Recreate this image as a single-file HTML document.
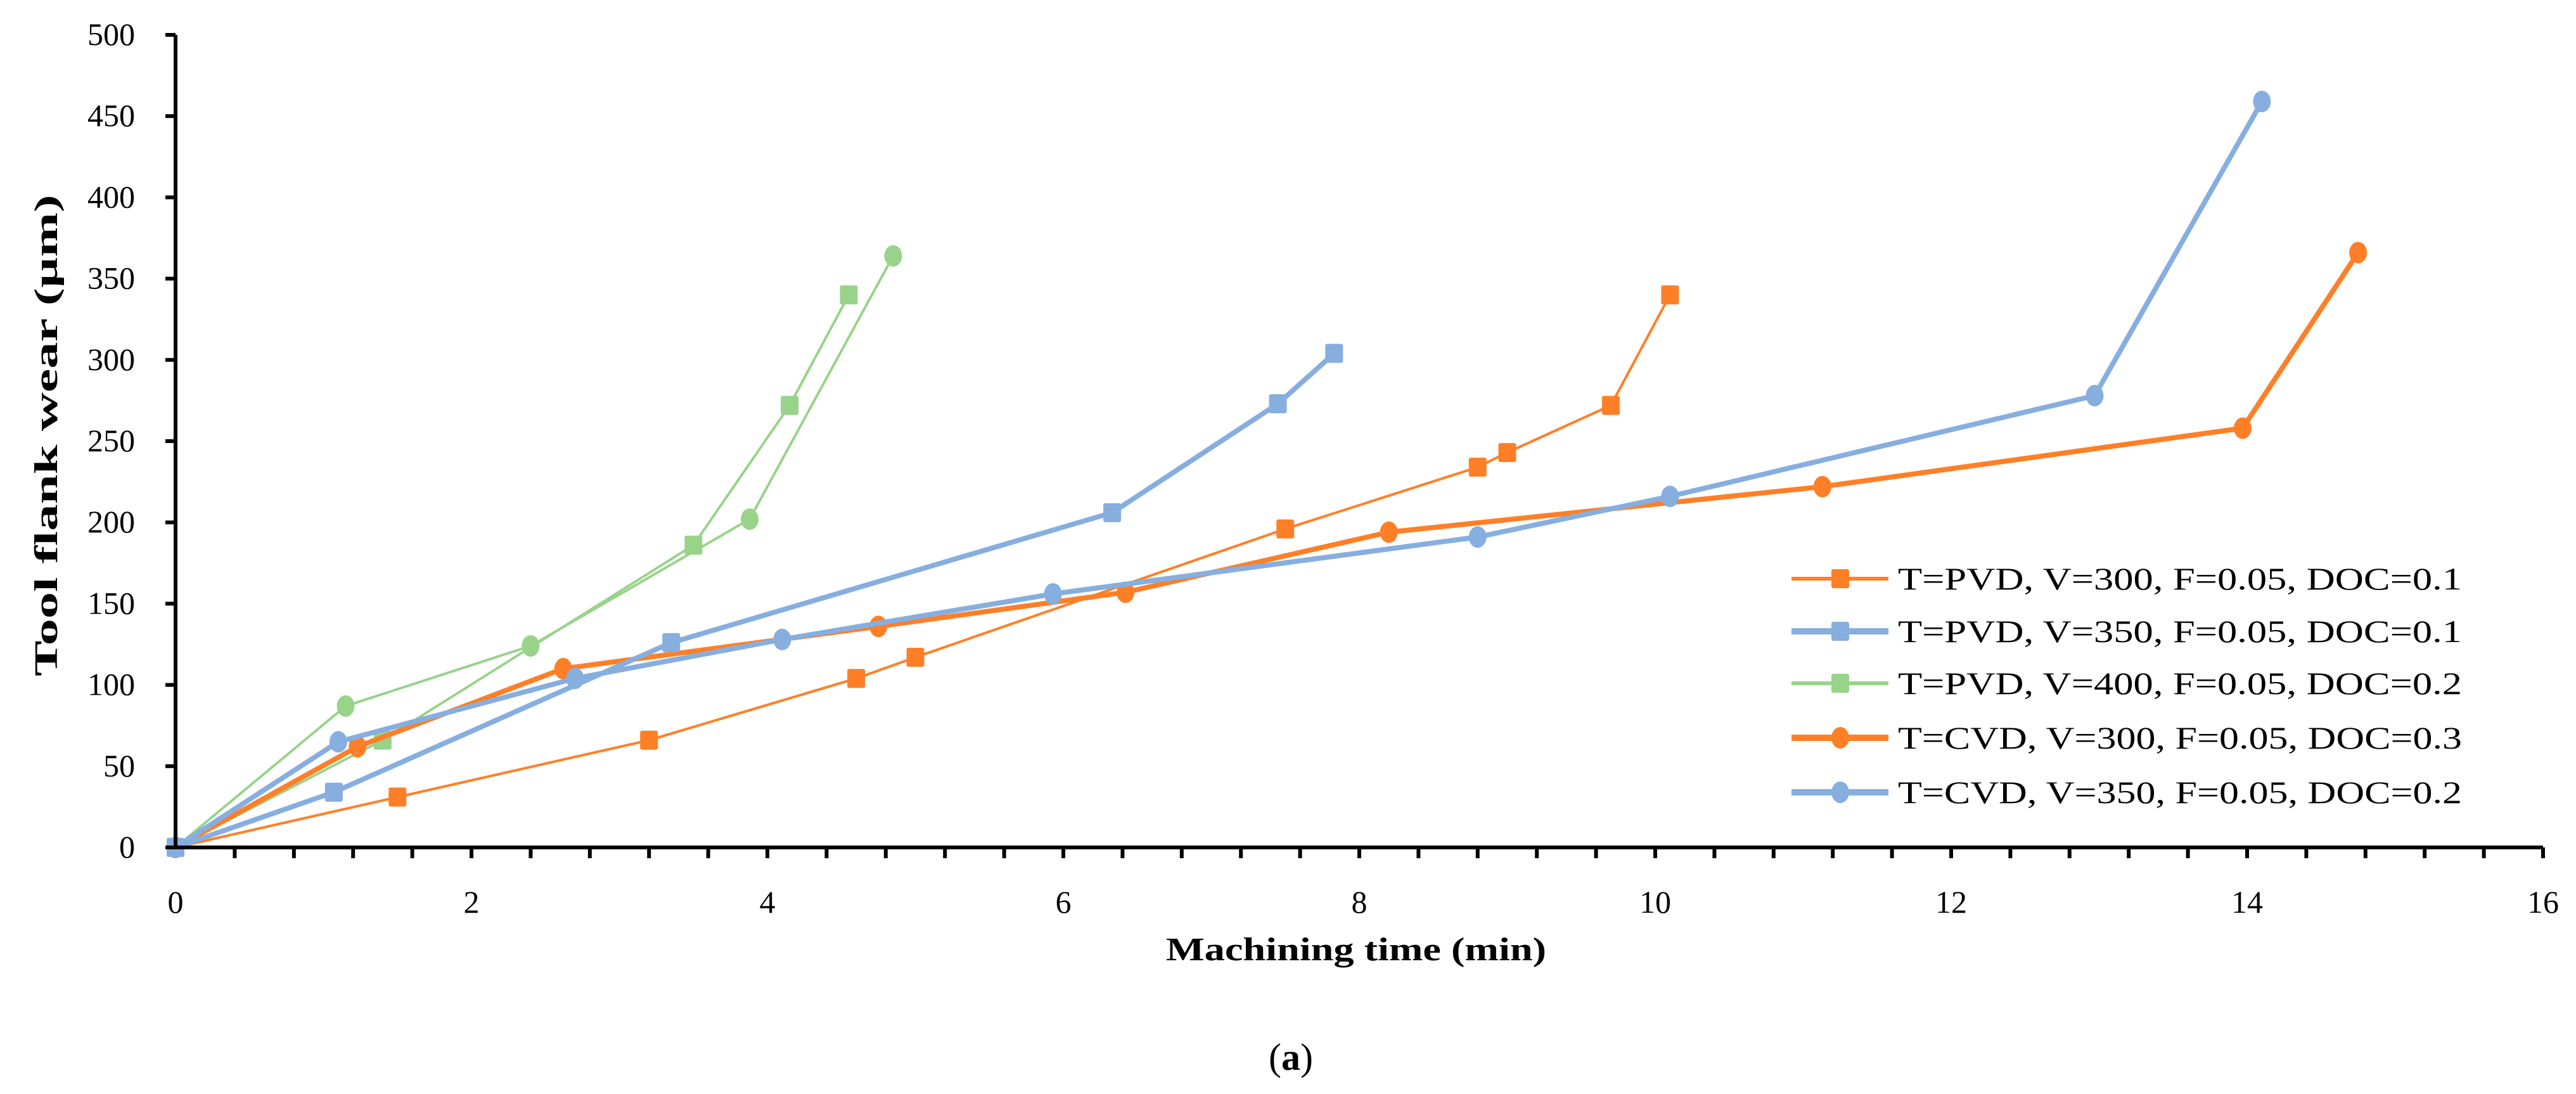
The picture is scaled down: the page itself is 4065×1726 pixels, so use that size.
<!DOCTYPE html>
<html><head><meta charset="utf-8"><style>
html,body{margin:0;padding:0;background:#fff}
svg{display:block;font-family:"Liberation Serif",serif}
</style></head><body>
<svg id="chart" width="4065" height="1726" viewBox="0 0 4065 1726" xmlns="http://www.w3.org/2000/svg">
<g id="plot"></g>
<text x="78" y="687" transform="rotate(-90 78 687)" text-anchor="middle" dominant-baseline="middle" font-size="52" font-weight="bold" textLength="760" lengthAdjust="spacingAndGlyphs">Tool flank wear  (µm)</text>
<text x="2140" y="1515" text-anchor="middle" font-size="52" font-weight="bold" textLength="600" lengthAdjust="spacingAndGlyphs">Machining time (min)</text>
<text x="2037" y="1688" text-anchor="middle" font-size="60">(<tspan font-weight="bold">a</tspan>)</text>
</svg>
<script>
const xTicks=[0,2,4,6,8,10,12,14,16];
const yTicks=[0,50,100,150,200,250,300,350,400,450,500];
const s1x=[0,1.5,3.2,4.6,5.0,7.5,8.8,9.0,9.7,10.1];
const s1y=[0,31,66,104,117,196,234,243,272,340];
const s2x=[0,1.07,3.35,6.33,7.45,7.83];
const s2y=[0,34,126,206,273,304];
const s3x=[0,1.4,3.5,4.15,4.55];
const s3y=[0,66,186,272,340];
const s4x=[0,1.23,2.62,4.75,6.42,8.2,11.13,13.97,14.75];
const s4y=[0,62,110,136,157,194,222,258,366];
const s5x=[0,1.1,2.7,4.1,5.93,8.8,10.1,12.97,14.1];
const s5y=[0,65,104,128,156,191,216,278,459];
const s6x=[0,1.15,2.4,3.88,4.85];
const s6y=[0,87,124,202,364];
const legendLabels=["T=PVD, V=300, F=0.05, DOC=0.1","T=PVD, V=350, F=0.05, DOC=0.1","T=PVD, V=400, F=0.05, DOC=0.2","T=CVD, V=300, F=0.05, DOC=0.3","T=CVD, V=350, F=0.05, DOC=0.2"];

const NS="http://www.w3.org/2000/svg";
const X0=277,X1=4013,Y0=1337,Y1=55;
function sx(v){return X0+(v-0)/(16-0)*(X1-X0);}
function sy(v){return Y0-(v-0)/(500-0)*(Y0-Y1);}
const g=document.getElementById('plot');
function mk(tag,attrs,parent){const e=document.createElementNS(NS,tag);for(const k in attrs)e.setAttribute(k,attrs[k]);(parent||g).appendChild(e);return e;}
const OR="#FF7F27",BL="#86AEDF",GR="#98D38A";
const series=[
 {x:s1x,y:s1y,c:OR,w:4,m:'sq',name:'series-pvd-300'},
 {x:s2x,y:s2y,c:BL,w:8,m:'sq',name:'series-pvd-350'},
 {x:s3x,y:s3y,c:GR,w:4,m:'sq',name:'series-pvd-400'},
 {x:s4x,y:s4y,c:OR,w:8,m:'ci',name:'series-cvd-300'},
 {x:s5x,y:s5y,c:BL,w:8,m:'ci',name:'series-cvd-350'},
 {x:s6x,y:s6y,c:GR,w:4,m:'ci',name:'series-cvd-400'}
];
function marker(type,cx,cy,c,parent){
 let e;
 if(type==='sq'){e=mk('rect',{x:cx-14,y:cy-15,width:28,height:30,rx:3,fill:c},parent);}
 else{e=mk('ellipse',{cx:cx,cy:cy,rx:14,ry:17,fill:c},parent);}
 return e;
}
const order=[5,2,0,3,4,1];
order.forEach(i=>{
 const s=series[i];
 const grp=mk('g',{});
 
 
 const pts=s.x.map((v,k)=>sx(v)+','+sy(s.y[k])).join(' ');
 const pl=mk('polyline',{points:pts,fill:'none',stroke:s.c,'stroke-width':s.w,'stroke-linejoin':'round'},grp);
 
 
 s.x.forEach((v,k)=>{
  const m=marker(s.m,sx(v),sy(s.y[k]),s.c,grp);
  
  
 });
});
const ax=mk('g',{});


const yl=mk('line',{x1:X0,y1:Y1,x2:X0,y2:Y0+3,stroke:'#000','stroke-width':6},ax);


const xl=mk('line',{x1:X0-3,y1:Y0,x2:X1,y2:Y0,stroke:'#000','stroke-width':6},ax);


yTicks.forEach(v=>{
 mk('line',{x1:X0-16,y1:sy(v),x2:X0,y2:sy(v),stroke:'#000','stroke-width':6},ax);
 const t=mk('text',{x:213,y:sy(v)+16,'text-anchor':'end','font-size':50},ax);
 t.textContent=v;
 
 
});
for(let v=0.4;v<=16.01;v+=0.4){
 mk('line',{x1:sx(v),y1:Y0,x2:sx(v),y2:Y0+17,stroke:'#000','stroke-width':6},ax);
}
xTicks.forEach(v=>{
 const t=mk('text',{x:sx(v),y:1440,'text-anchor':'middle','font-size':50},ax);
 t.textContent=v;
 
 
});
const lg=mk('g',{});


const ly=[913,996,1078,1164,1250];
legendLabels.forEach((lab,i)=>{
 const s=series[i];
 const e=mk('g',{},lg);
 
 
 mk('line',{x1:2827,y1:ly[i],x2:2980,y2:ly[i],stroke:s.c,'stroke-width':s.w+2},e);
 marker(s.m,2904,ly[i],s.c,e);
 const t=mk('text',{x:2995,y:ly[i]+17,'font-size':50,textLength:890,lengthAdjust:'spacingAndGlyphs'},e);
 t.textContent=lab;
});
</script>
</body></html>
